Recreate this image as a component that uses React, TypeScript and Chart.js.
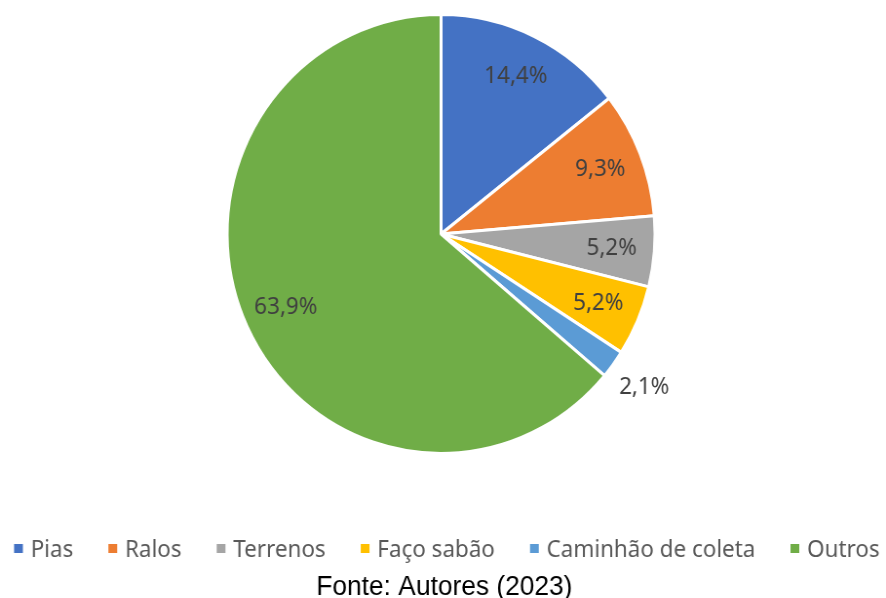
import React, { useEffect, useRef } from "react";
import { Chart, registerables } from "chart.js";

Chart.register(...registerables);

const categories = ["Pias", "Ralos", "Terrenos", "Faço sabão", "Caminhão de coleta", "Outros"];
const values = [14.4, 9.3, 5.2, 5.2, 2.1, 63.9];
const valueLabels = ["14,4%", "9,3%", "5,2%", "5,2%", "2,1%", "63,9%"];
const colors = ["#4472C4", "#ED7D31", "#A5A5A5", "#FFC000", "#5B9BD5", "#70AD47"];
const sourceText = "Fonte: Autores (2023)";

// drawing surface is slightly wider than displayed (reference is horizontally compressed)
const DISPLAY_W = 886;
const DISPLAY_H = 598;
const SCALE_X = 0.975;
const DRAW_W = Math.round(DISPLAY_W / SCALE_X);

const labelFont = '23px "Noto Sans", sans-serif';
const legendFont = '23px "Noto Sans", sans-serif';
const sourceFont = '27px "Liberation Sans", Arial, sans-serif';

const labelPlugin = {
  id: "sliceLabels",
  afterDatasetsDraw(chart: any) {
    const { ctx } = chart;
    const meta = chart.getDatasetMeta(0);
    ctx.save();
    ctx.font = labelFont;
    ctx.fillStyle = "#404040";
    ctx.textBaseline = "middle";
    ctx.textAlign = "center";
    meta.data.forEach((arc: any, i: number) => {
      const p = arc.getProps(["x", "y", "startAngle", "endAngle", "outerRadius"], true);
      const mid = (p.startAngle + p.endAngle) / 2;
      const r = p.outerRadius;
      const d = values[i] < 3 ? r * 1.18 : r * 0.8;
      ctx.fillText(valueLabels[i], p.x + Math.cos(mid) * d, p.y + Math.sin(mid) * d);
    });
    ctx.restore();
  },
};

const legendPlugin = {
  id: "customLegend",
  afterDraw(chart: any) {
    const { ctx } = chart;
    ctx.save();
    ctx.font = legendFont;
    const box = 9;
    const boxGap = 8;
    const itemGap = 36;
    const widths = categories.map((c) => ctx.measureText(c).width);
    const total =
      widths.reduce((a, b) => a + b, 0) + categories.length * (box + boxGap) + (categories.length - 1) * itemGap;
    const centerX = 447 / SCALE_X;
    let x = centerX - total / 2;
    const baseline = 557;
    categories.forEach((c, i) => {
      ctx.fillStyle = colors[i];
      ctx.fillRect(x, 544, box, box);
      x += box + boxGap;
      ctx.fillStyle = "#595959";
      ctx.textAlign = "left";
      ctx.textBaseline = "alphabetic";
      ctx.fillText(c, x, baseline);
      x += widths[i] + itemGap;
    });
    ctx.font = sourceFont;
    ctx.fillStyle = "#000000";
    ctx.textAlign = "center";
    ctx.fillText(sourceText, 444.5 / SCALE_X, 595);
    ctx.restore();
  },
};

export default function App() {
  const ref = useRef<HTMLCanvasElement | null>(null);
  useEffect(() => {
    if (!ref.current) return;
    const chart = new Chart(ref.current, {
      type: "pie",
      data: {
        labels: categories,
        datasets: [
          {
            data: values,
            backgroundColor: colors,
            borderColor: "#FFFFFF",
            borderWidth: 3,
          },
        ],
      },
      options: {
        animation: false,
        responsive: false,
        devicePixelRatio: 1,
        layout: { padding: { top: 13, bottom: 143, left: 0, right: 4 } },
        plugins: {
          tooltip: { enabled: false },
          legend: { display: false },
          title: { display: false },
        },
      },
      plugins: [labelPlugin, legendPlugin],
    });
    return () => chart.destroy();
  }, []);
  return (
    <div style={{ position: "absolute", left: 0, top: 0, width: DISPLAY_W, height: DISPLAY_H, background: "#fff" }}>
      <canvas
        ref={ref}
        width={DRAW_W}
        height={DISPLAY_H}
        style={{ display: "block", width: DISPLAY_W + "px", height: DISPLAY_H + "px" }}
      />
    </div>
  );
}
